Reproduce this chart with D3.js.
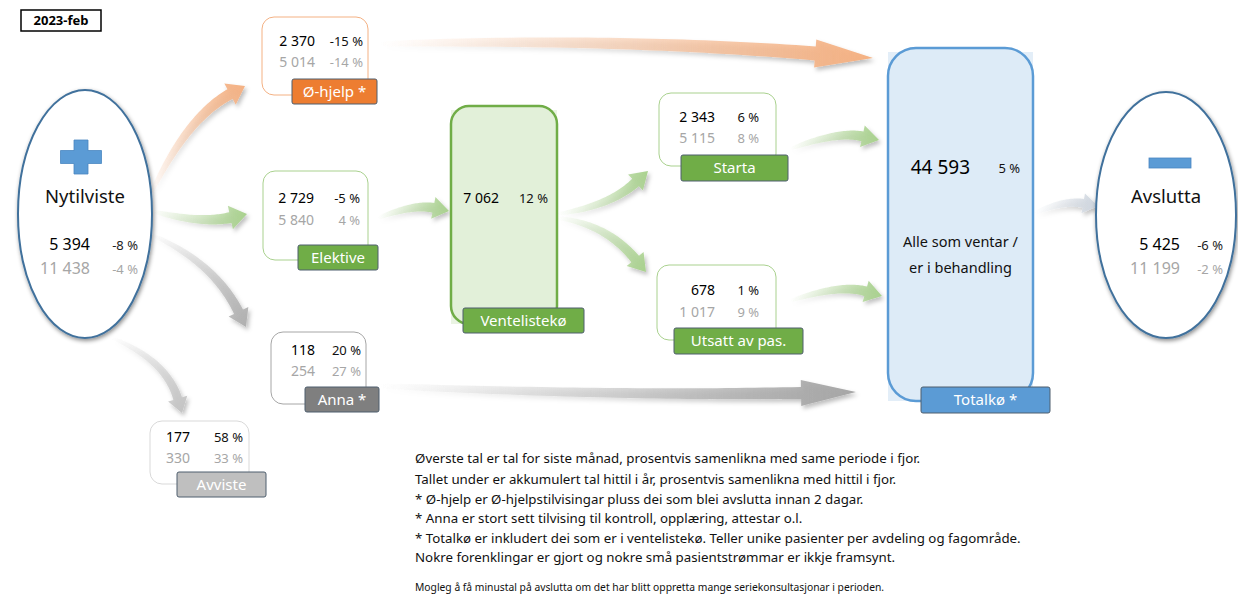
<!DOCTYPE html>
<html>
<head>
<meta charset="utf-8">
<script src="https://cdn.jsdelivr.net/npm/d3@7"></script>
<style>
  body { margin: 0; background: #fff; }
  svg { display: block; }
  text { font-family: 'Noto Sans', 'Open Sans', sans-serif; }
</style>
</head>
<body>
<svg id="chart" width="1238" height="594"></svg>
<script>
// ---- data ----
const period = '2023-feb'
const nodeNames = ['Nytilviste', 'Ø-hjelp *', 'Elektive', 'Anna *', 'Avviste',
  'Ventelistekø', 'Starta', 'Utsatt av pas.', 'Totalkø *', 'Avslutta']
const monthVals = [5394, 2370, 2729, 118, 177, 7062, 2343, 678, 44593, 5425]
const monthPct = [-8, -15, -5, 20, 58, 12, 6, 1, 5, -6]
const ytdVals = [11438, 5014, 5840, 254, 330, null, 5115, 1017, null, 11199]
const ytdPct = [-4, -14, 4, 27, 33, null, 8, 9, null, -2]
const totalNote = ['Alle som ventar /', 'er i behandling']
const flows = [
  ['Nytilviste', 'Ø-hjelp *'], ['Nytilviste', 'Elektive'], ['Nytilviste', 'Anna *'],
  ['Nytilviste', 'Avviste'], ['Ø-hjelp *', 'Totalkø *'], ['Elektive', 'Ventelistekø'],
  ['Ventelistekø', 'Starta'], ['Ventelistekø', 'Utsatt av pas.'], ['Starta', 'Totalkø *'],
  ['Utsatt av pas.', 'Totalkø *'], ['Anna *', 'Totalkø *'], ['Totalkø *', 'Avslutta']
]
const notes = [
  'Øverste tal er tal for siste månad, prosentvis samenlikna med same periode i fjor.',
  'Tallet under er akkumulert tal hittil i år, prosentvis samenlikna med hittil i fjor.',
  '* Ø-hjelp er Ø-hjelpstilvisingar pluss dei som blei avslutta innan 2 dagar.',
  '* Anna er stort sett tilvising til kontroll, opplæring, attestar o.l.',
  '* Totalkø er inkludert dei som er i ventelistekø. Teller unike pasienter per avdeling og fagområde.',
  'Nokre forenklingar er gjort og nokre små pasientstrømmar er ikkje framsynt.'
]
const smallNote = 'Mogleg å få minustal på avslutta om det har blitt oppretta mange seriekonsultasjonar i perioden.'

// ---- layout ----
const green = '#70AD47', lightGreen = '#A9D18E'
const layout = {
  'Nytilviste': { shape: 'ellipse', cx: 85, cy: 214, rx: 67, ry: 124, icon: 'plus', iconC: [81, 157], titleY: 197, numX: 90, pctX: 138, y1: 244, y2: 268 },
  'Avslutta': { shape: 'ellipse', cx: 1166, cy: 215, rx: 70, ry: 123, icon: 'minus', iconC: [1170, 163], titleY: 197, numX: 1180, pctX: 1223, y1: 244, y2: 268 },
  'Ø-hjelp *': { box: [262, 17, 106, 78], r: 12, stroke: '#F4B183', label: [292, 79, 85, 25], lfill: '#ED7D31', numX: 315, pctX: 363, y1: 41, y2: 62 },
  'Elektive': { box: [263, 171, 105, 89], r: 12, stroke: lightGreen, label: [298, 245, 80, 25], lfill: green, numX: 314, pctX: 360, y1: 198, y2: 220 },
  'Anna *': { box: [271, 332, 95, 72], r: 12, stroke: '#A6A6A6', label: [305, 387, 74, 25], lfill: '#7F7F7F', numX: 315, pctX: 361, y1: 350, y2: 371 },
  'Avviste': { box: [150, 421, 99, 63], r: 12, stroke: '#D9D9D9', label: [177, 472, 89, 25], lfill: '#BFBFBF', numX: 190, pctX: 243, y1: 437, y2: 458 },
  'Ventelistekø': { box: [451, 106, 106, 218], r: 18, stroke: green, sw: 2.5, fill: '#E2F0D9', back: '#EAF4E3', label: [463, 308, 121, 25], lfill: green, numX: 499, pctX: 548, y1: 198 },
  'Starta': { box: [659, 93, 117, 73], r: 12, stroke: lightGreen, label: [681, 155, 107, 26], lfill: green, numX: 715, pctX: 759, y1: 117, y2: 138 },
  'Utsatt av pas.': { box: [657, 265, 119, 75], r: 12, stroke: lightGreen, label: [674, 328, 129, 26], lfill: green, numX: 715, pctX: 759, y1: 290, y2: 312 },
  'Totalkø *': { box: [888, 48, 145, 353], r: 28, stroke: '#5B9BD5', sw: 2.5, fill: '#DDEBF7', back: '#E3EEF8', label: [921, 387, 129, 26], lfill: '#5B9BD5', numX: 970, pctX: 1020, y1: 167, bigNum: true, noteY: [242, 268] }
}
// arrow geometry: start, control point, tip, widths, head size, colour
const arrowGeo = [
  { p0: [150, 196], c: [186, 118], tip: [245, 86], w0: 2, w1: 11, hw: 24, hl: 17, color: '#F4B183' },
  { p0: [152, 211], c: [200, 224], tip: [247, 214], w0: 2, w1: 11, hw: 24, hl: 17, color: lightGreen },
  { p0: [150, 234], c: [214, 262], tip: [246, 327], w0: 2, w1: 10, hw: 22, hl: 17, color: '#B0B0B0' },
  { p0: [112, 338], c: [166, 360], tip: [182, 413], w0: 2, w1: 9, hw: 20, hl: 15, color: '#C4C4C4' },
  { p0: [380, 44], c: [620, 38], tip: [873, 58], w0: 4, w1: 14, hw: 28, hl: 58, color: '#F4B183' },
  { p0: [378, 218], c: [414, 204], tip: [449, 211], w0: 2, w1: 10, hw: 22, hl: 16, color: lightGreen },
  { p0: [558, 214], c: [610, 206], tip: [648, 171], w0: 2, w1: 10, hw: 22, hl: 17, color: lightGreen },
  { p0: [558, 218], c: [606, 224], tip: [646, 272], w0: 2, w1: 10, hw: 22, hl: 17, color: lightGreen },
  { p0: [790, 149], c: [838, 131], tip: [879, 140], w0: 2, w1: 10, hw: 22, hl: 17, color: lightGreen },
  { p0: [790, 301], c: [840, 284], tip: [882, 296], w0: 2, w1: 10, hw: 22, hl: 17, color: lightGreen },
  { p0: [380, 386], c: [620, 396], tip: [856, 392], w0: 4, w1: 12, hw: 26, hl: 55, color: '#A6A6A6' },
  { p0: [1035, 213], c: [1064, 200], tip: [1098, 206], w0: 3, w1: 9, hw: 20, hl: 15, color: '#CFD6DF' }
]

const locale = d3.formatLocale({ decimal: ',', thousands: ' ', grouping: [3], currency: ['', ''] })
const fmt = locale.format(',d')
const pct = v => v + ' %'

const svg = d3.select('#chart')
const defs = svg.append('defs')

const shadow = defs.append('filter').attr('id', 'shadow')
  .attr('x', '-20%').attr('y', '-20%').attr('width', '150%').attr('height', '160%')
shadow.append('feDropShadow').attr('dx', 2).attr('dy', 3).attr('stdDeviation', 2.2)
  .attr('flood-color', '#000').attr('flood-opacity', 0.28)
const eshadow = defs.append('filter').attr('id', 'eshadow')
  .attr('x', '-20%').attr('y', '-20%').attr('width', '140%').attr('height', '140%')
eshadow.append('feDropShadow').attr('dx', 1).attr('dy', 2).attr('stdDeviation', 2)
  .attr('flood-color', '#000').attr('flood-opacity', 0.45)

// ---- period tag ----
svg.append('rect').attr('x', 21).attr('y', 10).attr('width', 80).attr('height', 21)
  .attr('fill', '#fff').attr('stroke', '#000').attr('stroke-width', 1.5)
svg.append('text').attr('x', 61).attr('y', 20.5).attr('dy', '0.35em')
  .attr('text-anchor', 'middle').attr('font-size', 13).attr('font-weight', 'bold').text(period)

// ---- arrows ----
function arrowPath(a) {
  const [x0, y0] = a.p0, [cx, cy] = a.c, [tx, ty] = a.tip
  let dx = tx - cx, dy = ty - cy
  const L = Math.hypot(dx, dy)
  dx /= L; dy /= L
  const bx = tx - dx * a.hl, by = ty - dy * a.hl
  const n = 40, left = [], right = []
  for (let i = 0; i <= n; i++) {
    const t = i / n
    const x = (1 - t) * (1 - t) * x0 + 2 * (1 - t) * t * cx + t * t * bx
    const y = (1 - t) * (1 - t) * y0 + 2 * (1 - t) * t * cy + t * t * by
    let gx = 2 * (1 - t) * (cx - x0) + 2 * t * (bx - cx)
    let gy = 2 * (1 - t) * (cy - y0) + 2 * t * (by - cy)
    const g = Math.hypot(gx, gy)
    const nx = -gy / g, ny = gx / g
    const w = (a.w0 + (a.w1 - a.w0) * Math.sqrt(t)) / 2
    left.push([x + nx * w, y + ny * w])
    right.push([x - nx * w, y - ny * w])
  }
  const hx = -dy, hy = dx
  const pts = left.concat([[bx + hx * a.hw / 2, by + hy * a.hw / 2], [tx, ty],
    [bx - hx * a.hw / 2, by - hy * a.hw / 2]], right.reverse())
  return d3.line()(pts) + 'Z'
}

const arrowG = svg.append('g').attr('filter', 'url(#shadow)')
flows.forEach((f, i) => {
  const a = arrowGeo[i]
  const gid = 'grad' + i
  const grad = defs.append('linearGradient').attr('id', gid)
    .attr('gradientUnits', 'userSpaceOnUse')
    .attr('x1', a.p0[0]).attr('y1', a.p0[1]).attr('x2', a.tip[0]).attr('y2', a.tip[1])
  grad.append('stop').attr('offset', 0).attr('stop-color', a.color).attr('stop-opacity', 0)
  grad.append('stop').attr('offset', 0.5).attr('stop-color', a.color).attr('stop-opacity', 0.45)
  grad.append('stop').attr('offset', 1).attr('stop-color', a.color).attr('stop-opacity', 1)
  arrowG.append('path').attr('class', 'flow')
    .attr('data-from', f[0]).attr('data-to', f[1])
    .attr('d', arrowPath(a)).attr('fill', `url(#${gid})`)
})

// ---- nodes ----
nodeNames.forEach((name, i) => {
  const L = layout[name]
  const g = svg.append('g').attr('class', 'node')

  if (L.shape === 'ellipse') {
    g.append('ellipse').attr('cx', L.cx).attr('cy', L.cy).attr('rx', L.rx).attr('ry', L.ry)
      .attr('fill', '#fff').attr('stroke', '#41719C').attr('stroke-width', 2)
      .attr('filter', 'url(#eshadow)')
    const [ix, iy] = L.iconC
    if (L.icon === 'plus') {
      g.append('path')
        .attr('d', `M${ix - 7},${iy - 17}h14v10.5h13.5v13h-13.5v10.5h-14v-10.5h-13.5v-13h13.5z`)
        .attr('fill', '#5B9BD5').attr('stroke', '#4A86C0').attr('stroke-width', 0.8)
    } else {
      g.append('rect').attr('x', ix - 21).attr('y', iy - 5).attr('width', 42).attr('height', 10)
        .attr('fill', '#5B9BD5').attr('stroke', '#4A86C0').attr('stroke-width', 0.8)
    }
    g.append('text').attr('x', L.cx).attr('y', L.titleY).attr('dy', '0.35em')
      .attr('text-anchor', 'middle').attr('font-size', 18.5).attr('fill', '#111').text(name)
    g.append('text').attr('x', L.numX).attr('y', L.y1).attr('dy', '0.35em').attr('text-anchor', 'end')
      .attr('font-size', 16).attr('fill', '#000').text(fmt(monthVals[i]))
    g.append('text').attr('x', L.pctX).attr('y', L.y1 + 1).attr('dy', '0.35em').attr('text-anchor', 'end')
      .attr('font-size', 13).attr('fill', '#222').text(pct(monthPct[i]))
    g.append('text').attr('x', L.numX).attr('y', L.y2).attr('dy', '0.35em').attr('text-anchor', 'end')
      .attr('font-size', 16).attr('fill', '#A6A6A6').text(fmt(ytdVals[i]))
    g.append('text').attr('x', L.pctX).attr('y', L.y2 + 1).attr('dy', '0.35em').attr('text-anchor', 'end')
      .attr('font-size', 13).attr('fill', '#A6A6A6').text(pct(ytdPct[i]))
    return
  }

  const [x, y, w, h] = L.box
  if (L.back) {
    g.append('rect').attr('x', x).attr('y', y + 4).attr('width', w).attr('height', h - 4).attr('fill', L.back)
  }
  g.append('rect').attr('x', x).attr('y', y).attr('width', w).attr('height', h)
    .attr('rx', L.r).attr('ry', L.r)
    .attr('fill', L.fill || '#fff').attr('stroke', L.stroke).attr('stroke-width', L.sw || 1)

  const big = L.bigNum
  g.append('text').attr('x', L.numX).attr('y', L.y1).attr('dy', '0.35em').attr('text-anchor', 'end')
    .attr('font-size', big ? 19 : 14).attr('fill', '#000').text(fmt(monthVals[i]))
  g.append('text').attr('x', L.pctX).attr('y', L.y1 + (big ? 1 : 0)).attr('dy', '0.35em').attr('text-anchor', 'end')
    .attr('font-size', 13).attr('fill', '#111').text(pct(monthPct[i]))
  if (ytdVals[i] != null) {
    g.append('text').attr('x', L.numX).attr('y', L.y2).attr('dy', '0.35em').attr('text-anchor', 'end')
      .attr('font-size', 14).attr('fill', '#A6A6A6').text(fmt(ytdVals[i]))
    g.append('text').attr('x', L.pctX).attr('y', L.y2).attr('dy', '0.35em').attr('text-anchor', 'end')
      .attr('font-size', 13).attr('fill', '#A6A6A6').text(pct(ytdPct[i]))
  }
  if (L.noteY) {
    totalNote.forEach((t, k) => {
      g.append('text').attr('x', x + w / 2).attr('y', L.noteY[k]).attr('dy', '0.35em')
        .attr('text-anchor', 'middle').attr('font-size', 14.5).attr('fill', '#111').text(t)
    })
  }

  const [lx, ly, lw, lh] = L.label
  g.append('rect').attr('x', lx).attr('y', ly).attr('width', lw).attr('height', lh)
    .attr('rx', 2).attr('fill', L.lfill).attr('stroke', '#4E5E6E').attr('stroke-width', 1)
  g.append('text').attr('x', lx + lw / 2).attr('y', ly + lh / 2).attr('dy', '0.35em')
    .attr('text-anchor', 'middle').attr('font-size', 15).attr('fill', '#fff').text(name)
})

// ---- notes ----
const noteY = [458, 479, 499, 518, 538, 557]
notes.forEach((t, k) => {
  svg.append('text').attr('x', 415).attr('y', noteY[k]).attr('dy', '0.35em')
    .attr('font-size', 13.3).attr('fill', '#111').text(t)
})
svg.append('text').attr('x', 415).attr('y', 587).attr('dy', '0.35em')
  .attr('font-size', 10.3).attr('fill', '#111').text(smallNote)
</script>
</body>
</html>
